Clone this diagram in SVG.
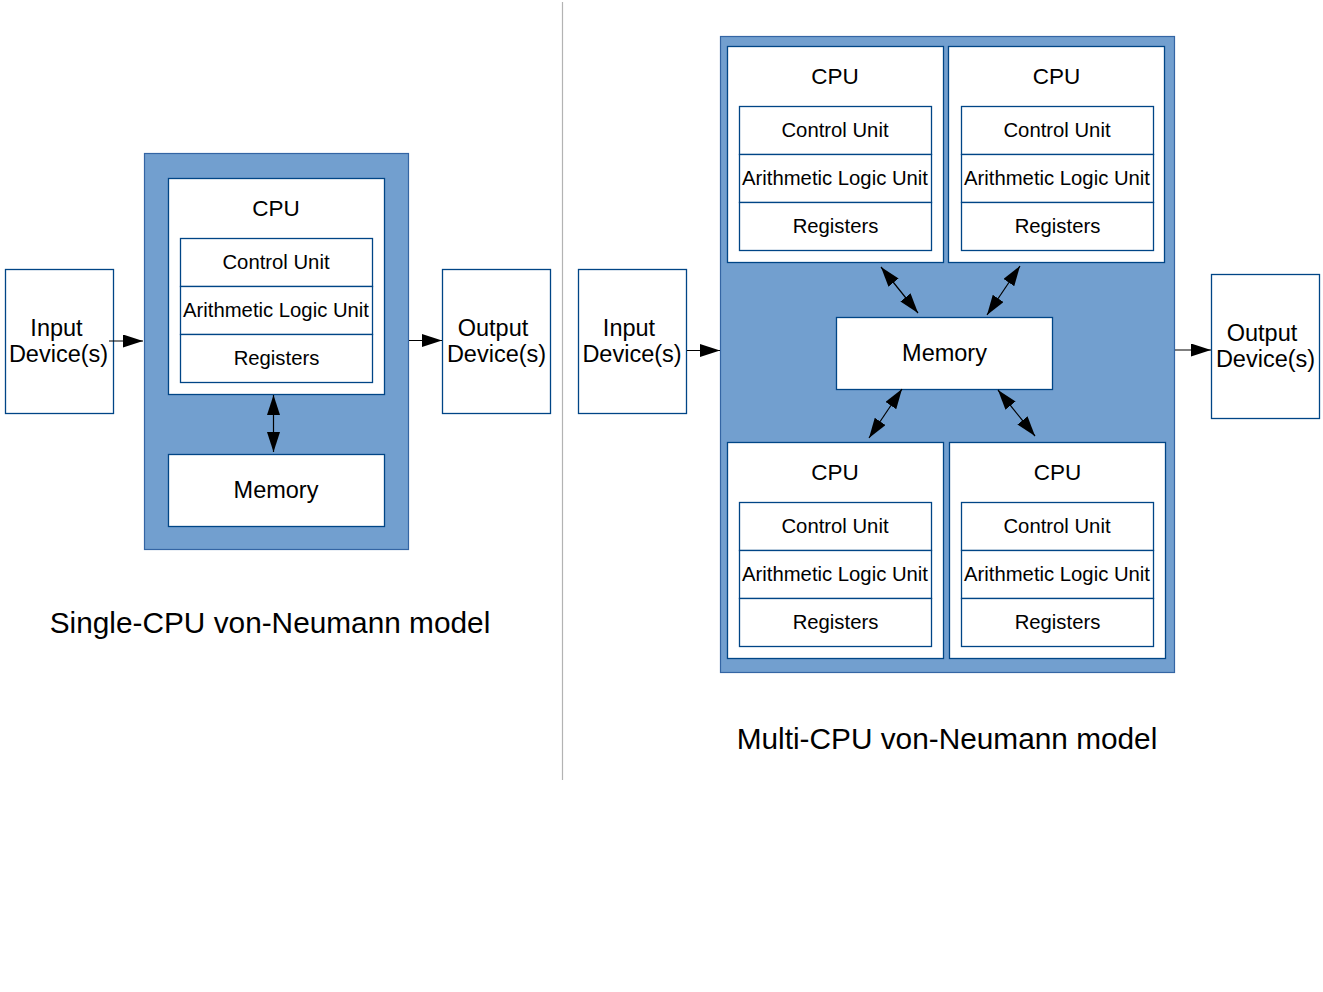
<svg xmlns="http://www.w3.org/2000/svg" width="1323" height="992" viewBox="0 0 1323 992">
<style>
.bg{fill:#729fcf;stroke:#3465a4;stroke-width:1.2}
.box{fill:#ffffff;stroke:#004586;stroke-width:1.3}
.t{font-family:"Liberation Sans",Arial,sans-serif;fill:#000;text-anchor:middle}
.big{font-size:23.5px}
.cpu{font-size:22.5px}
.sm{font-size:20.3px}
.title{font-size:29.8px}
.c{stroke:#000;stroke-width:1.2;fill:none}
.one{marker-end:url(#ah)}
.two{marker-end:url(#ah);marker-start:url(#ah)}
</style>
<defs>
<marker id="ah" markerUnits="userSpaceOnUse" markerWidth="20" markerHeight="13" refX="20" refY="6.5" orient="auto-start-reverse" viewBox="0 0 20 13">
<path d="M0,0 L20,6.5 L0,13 z" fill="#000"/>
</marker>
</defs>
<rect width="1323" height="992" fill="#fff"/>
<line x1="562.5" y1="2" x2="562.5" y2="780" stroke="#b3b3b3" stroke-width="1.2"/>

<!-- Single CPU -->
<g id="single-container">
<rect class="bg" x="144.5" y="153.5" width="264" height="396"/>
</g>
<g id="single-input">
<rect class="box" x="5.5" y="269.5" width="108" height="144"/>
<text class="t big" x="56.5" y="336">Input</text>
<text class="t big" x="58.5" y="362">Device(s)</text>
</g>
<g id="single-cpu">
<rect class="box" x="168.5" y="178.5" width="216" height="216"/>
<text class="t cpu" x="276" y="215.5">CPU</text>
<rect class="box" x="180.5" y="238.5" width="192" height="48"/>
<text class="t sm" x="276" y="269">Control Unit</text>
<rect class="box" x="180.5" y="286.5" width="192" height="48"/>
<text class="t sm" x="276" y="317">Arithmetic Logic Unit</text>
<rect class="box" x="180.5" y="334.5" width="192" height="48"/>
<text class="t sm" x="276.5" y="365">Registers</text>
</g>
<g id="single-memory">
<rect class="box" x="168.5" y="454.5" width="216" height="72"/>
<text class="t big" x="276" y="498">Memory</text>
</g>
<g id="single-output">
<rect class="box" x="442.5" y="269.5" width="108" height="144"/>
<text class="t big" x="493" y="336">Output</text>
<text class="t big" x="496.5" y="362">Device(s)</text>
</g>
<text class="t title" x="270" y="633">Single-CPU von-Neumann model</text>

<!-- Multi CPU -->
<g id="multi-container">
<rect class="bg" x="720.5" y="36.5" width="454" height="636"/>
</g>
<g id="multi-input">
<rect class="box" x="578.5" y="269.5" width="108" height="144"/>
<text class="t big" x="629" y="336">Input</text>
<text class="t big" x="632" y="362">Device(s)</text>
</g>
<g id="cpu-tl">
<rect class="box" x="727.5" y="46.5" width="216" height="216"/>
<text class="t cpu" x="835" y="83.5">CPU</text>
<rect class="box" x="739.5" y="106.5" width="192" height="48"/>
<text class="t sm" x="835" y="137">Control Unit</text>
<rect class="box" x="739.5" y="154.5" width="192" height="48"/>
<text class="t sm" x="835" y="185">Arithmetic Logic Unit</text>
<rect class="box" x="739.5" y="202.5" width="192" height="48"/>
<text class="t sm" x="835.5" y="233">Registers</text>
</g>
<g id="cpu-tr">
<rect class="box" x="948.5" y="46.5" width="216" height="216"/>
<text class="t cpu" x="1056.5" y="83.5">CPU</text>
<rect class="box" x="961.5" y="106.5" width="192" height="48"/>
<text class="t sm" x="1057" y="137">Control Unit</text>
<rect class="box" x="961.5" y="154.5" width="192" height="48"/>
<text class="t sm" x="1057" y="185">Arithmetic Logic Unit</text>
<rect class="box" x="961.5" y="202.5" width="192" height="48"/>
<text class="t sm" x="1057.5" y="233">Registers</text>
</g>
<g id="multi-memory">
<rect class="box" x="836.5" y="317.5" width="216" height="72"/>
<text class="t big" x="944.5" y="361">Memory</text>
</g>
<g id="cpu-bl">
<rect class="box" x="727.5" y="442.5" width="216" height="216"/>
<text class="t cpu" x="835" y="479.5">CPU</text>
<rect class="box" x="739.5" y="502.5" width="192" height="48"/>
<text class="t sm" x="835" y="533">Control Unit</text>
<rect class="box" x="739.5" y="550.5" width="192" height="48"/>
<text class="t sm" x="835" y="581">Arithmetic Logic Unit</text>
<rect class="box" x="739.5" y="598.5" width="192" height="48"/>
<text class="t sm" x="835.5" y="629">Registers</text>
</g>
<g id="cpu-br">
<rect class="box" x="949.5" y="442.5" width="216" height="216"/>
<text class="t cpu" x="1057.5" y="479.5">CPU</text>
<rect class="box" x="961.5" y="502.5" width="192" height="48"/>
<text class="t sm" x="1057" y="533">Control Unit</text>
<rect class="box" x="961.5" y="550.5" width="192" height="48"/>
<text class="t sm" x="1057" y="581">Arithmetic Logic Unit</text>
<rect class="box" x="961.5" y="598.5" width="192" height="48"/>
<text class="t sm" x="1057.5" y="629">Registers</text>
</g>
<g id="multi-output">
<rect class="box" x="1211.5" y="274.5" width="108" height="144"/>
<text class="t big" x="1262" y="341">Output</text>
<text class="t big" x="1265.5" y="367">Device(s)</text>
</g>
<text class="t title" x="947" y="749">Multi-CPU von-Neumann model</text>

<g id="connectors">
<line class="c one" x1="109" y1="341" x2="143" y2="341"/>
<line class="c one" x1="409" y1="340.5" x2="442" y2="340.5"/>
<line class="c two" x1="273.5" y1="395" x2="273.5" y2="452"/>
<line class="c one" x1="687" y1="350.5" x2="720" y2="350.5"/>
<line class="c one" x1="1175" y1="350" x2="1211" y2="350"/>
<line class="c two" x1="881" y1="267" x2="918" y2="313"/>
<line class="c two" x1="1020" y1="266" x2="987" y2="315"/>
<line class="c two" x1="902" y1="389" x2="869" y2="438"/>
<line class="c two" x1="998" y1="390" x2="1035" y2="436"/>
</g>
</svg>
